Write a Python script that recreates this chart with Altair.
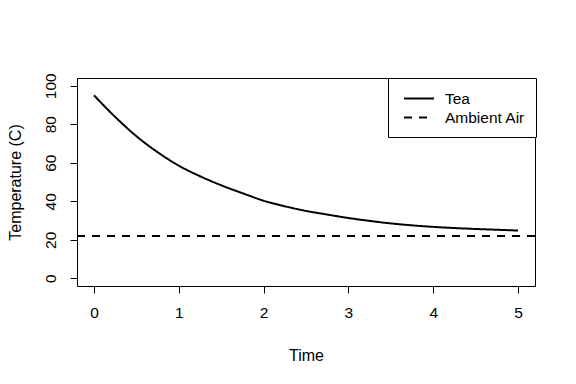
import altair as alt
import pandas as pd

time = [0, 0.25, 0.5, 0.75, 1.0, 1.25, 1.5, 1.75, 2.0, 2.25, 2.5, 2.75, 3.0,
        3.25, 3.5, 3.75, 4.0, 4.25, 4.5, 4.75, 5.0]
tea = [95, 83.8, 73.8, 65.5, 58.5, 53.0, 48.3, 44.2, 40.3, 37.4, 35.0, 33.1, 31.3,
       29.8, 28.5, 27.5, 26.7, 26.1, 25.6, 25.2, 24.8]
ambient = 22
series = ["Tea", "Ambient Air"]

tea_df = pd.DataFrame({"Time": time, "Temp": tea, "Series": "Tea"})
air_df = pd.DataFrame({"Temp": [ambient], "Series": ["Ambient Air"]})

FONT = "Liberation Sans"

color = alt.Color("Series:N", scale=alt.Scale(domain=series, range=["black", "black"]),
                  legend=alt.Legend(title=None, orient="none", legendX=311, legendY=0))
dash = alt.StrokeDash("Series:N", scale=alt.Scale(domain=series, range=[[1, 0], [8, 7]]),
                      legend=alt.Legend(title=None, orient="none", legendX=311, legendY=0))

x = alt.X("Time:Q", scale=alt.Scale(domain=[-0.2, 5.2], nice=False, zero=False),
          axis=alt.Axis(title="Time", values=[0, 1, 2, 3, 4, 5], format="d",
                        titleY=74, titleBaseline="alphabetic"))
y = alt.Y("Temp:Q", scale=alt.Scale(domain=[-4, 104], nice=False),
          axis=alt.Axis(title="Temperature (C)", values=[0, 20, 40, 60, 80, 100],
                        labelAngle=270, labelAlign="center", labelBaseline="bottom",
                        titleX=-57, titleBaseline="alphabetic"))

line = alt.Chart(tea_df).mark_line(strokeWidth=2, interpolate="monotone").encode(
    x=x, y=y, color=color, strokeDash=dash)
rule = alt.Chart(air_df).mark_rule(strokeWidth=2).encode(
    y=alt.Y("Temp:Q"), color=color, strokeDash=dash)

chart = alt.layer(line, rule).properties(
    width=458, height=208,
    padding={"left": 69, "top": 70, "right": 25, "bottom": 80},
    autosize=alt.AutoSizeParams(type="none"),
).configure_view(stroke="black", strokeWidth=1).configure_axis(
    domain=False, tickColor="black", tickSize=7, tickWidth=1,
    labelFont=FONT, labelFontSize=15.5, labelColor="black", labelPadding=12,
    titleFont=FONT, titleFontSize=16, titleColor="black", titleFontWeight="normal",
    grid=False,
).configure_legend(
    strokeColor="black", fillColor="white", padding=10.5, symbolOffset=10.5,
    symbolType="M-1.667,0L1.667,0", symbolSize=324, symbolStrokeWidth=2,
    symbolStrokeColor="black", symbolFillColor="transparent",
    labelFont=FONT, labelFontSize=15.5, labelColor="black", labelOffset=16,
    rowPadding=0, cornerRadius=0,
)

chart.save("out.html", embed_options={"renderer": "svg", "actions": False})
